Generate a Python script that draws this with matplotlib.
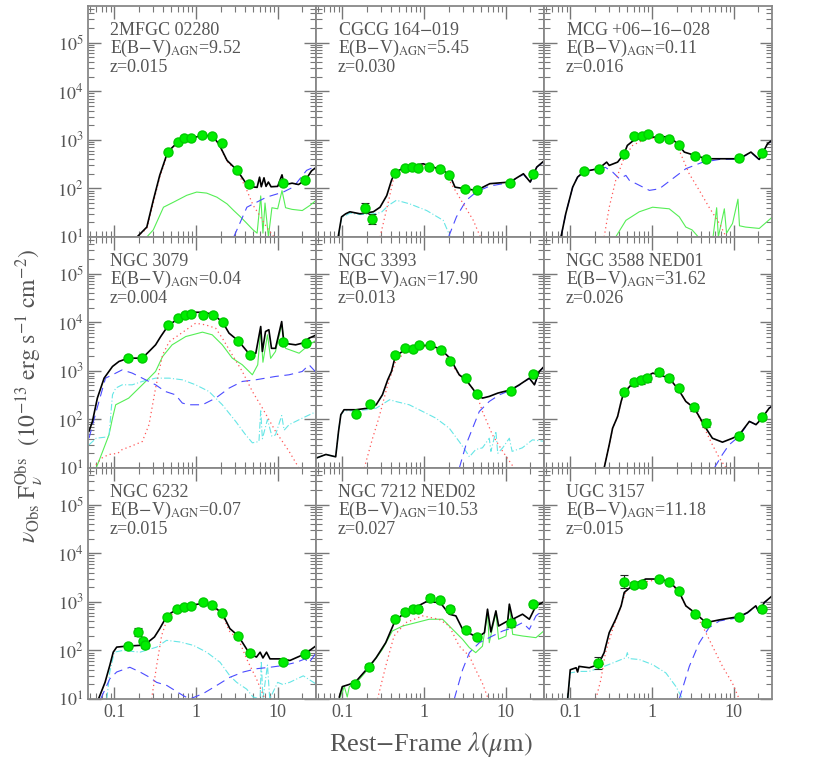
import numpy as np
import matplotlib
matplotlib.use("Agg")
import matplotlib.pyplot as plt
from matplotlib.ticker import LogLocator, NullFormatter, FixedLocator, FixedFormatter

plt.rcParams['font.family'] = ['Liberation Serif', 'DejaVu Serif']
plt.rcParams['mathtext.fontset'] = 'stix'

GRAY = '#555555'

# ---- panel labels ----
names = ["2MFGC 02280", "CGCG 164$-$019", "MCG +06$-$16$-$028",
         "NGC 3079", "NGC 3393", "NGC 3588 NED01",
         "NGC 6232", "NGC 7212 NED02", "UGC 3157"]
ebv = ["9.52", "5.45", "0.11", "0.04", "17.90", "31.62", "0.07", "10.53", "11.18"]
zs = ["0.015", "0.030", "0.016", "0.004", "0.013", "0.026", "0.015", "0.027", "0.015"]

# ---- 2MFGC 02280 ----
p1_lam = [0.45, 0.6, 0.72, 0.86, 1.18, 1.58, 2.08, 3.2, 4.5, 11.5, 21.7]
p1_flux = [558, 910, 1082, 1099, 1268, 1208, 867, 238, 123, 127, 146]
p1_err = [0.04] * 11
p1_tot_lam = [0.19, 0.25, 0.30, 0.36, 0.45, 0.6, 0.8, 1.0, 1.2, 1.6, 1.9, 2.4, 3.2, 4.0, 5.0, 5.6, 6.0, 6.3,
              6.8, 7.2, 7.7, 8.3, 10.0, 11.3, 12.0, 15, 18, 22, 26, 30]
p1_tot = [10, 16, 57, 186, 560, 900, 1080, 1135, 1260, 1170, 830, 376, 234, 135, 107, 105, 170, 108,
          165, 110, 135, 108, 110, 190, 118, 128, 120, 150, 230, 275]
p1_host_lam = [0.19, 0.25, 0.3, 0.36, 0.45, 0.6, 0.8, 1.0, 1.2, 1.6, 1.9, 2.4, 3.2, 4.0, 5.0, 6.0, 7.3, 9.0]
p1_host = [10, 15, 50, 170, 520, 870, 1060, 1120, 1240, 1150, 800, 360, 220, 110, 45, 28, 16, 10]
p1_agn_lam = [2.9, 4.2, 7.3, 11.7, 15.6, 22.6, 30]
p1_agn = [10, 41, 66, 84, 107, 235, 290]
p1_cyan_lam = []
p1_cyan = []
p1_green_lam = [0.25, 0.30, 0.40, 0.53, 0.77, 1.02, 1.35, 1.8, 2.4, 2.9, 3.5, 4.2, 5.0, 5.6, 6.2, 6.6, 7.0,
                7.7, 8.5, 10, 11.3, 12.5, 15, 20, 25, 30]
p1_green = [10, 14, 41, 52, 72, 84, 80, 66, 48, 35, 26, 19, 14, 12, 70, 12, 50, 10, 40, 38, 90, 40, 37,
            35, 45, 58]

# ---- CGCG 164-019 ----
p2_lam = [0.19, 0.233, 0.44, 0.585, 0.706, 0.837, 1.16, 1.57, 2.04, 3.18, 4.42, 11.3, 21.4]
p2_flux = [39.5, 23.8, 210, 266, 274, 262, 274, 249, 185, 98, 91, 129, 194]
p2_err = [0.11, 0.1, 0.04, 0.04, 0.04, 0.04, 0.04, 0.04, 0.04, 0.04, 0.04, 0.04, 0.04]
p2_tot_lam = [0.089, 0.098, 0.11, 0.124, 0.165, 0.24, 0.29, 0.35, 0.40, 0.44, 0.585, 0.98, 1.3, 1.72,
              2.08, 2.4, 3.18, 4.42, 6.4, 11.3, 16.5, 20, 24, 30]
p2_tot = [10, 26, 30, 33, 30, 33, 41, 71, 146, 210, 274, 321, 274, 234, 185, 106, 98, 91, 125, 135,
          200, 135, 274, 376]
p2_host_lam = [0.29, 0.37, 0.42, 0.56, 0.98, 1.72, 2.29, 3.03, 4.02, 4.9]
p2_host = [10, 57, 146, 234, 296, 234, 106, 48, 22, 10]
p2_agn_lam = [2.0, 2.5, 3.3, 4.4, 6.4, 11.3, 16.5, 20, 24, 30]
p2_agn = [10, 26, 57, 85, 112, 132, 195, 133, 270, 370]
p2_cyan_lam = [0.089, 0.098, 0.124, 0.165, 0.24, 0.30, 0.37, 0.46, 0.67, 1.08, 1.72, 2.1]
p2_cyan = [10, 25, 31, 29, 30, 32, 45, 57, 48, 35, 22, 10]
p2_green_lam = []
p2_green = []

# ---- MCG +06-16-028 ----
p3_lam = [0.148, 0.222, 0.454, 0.608, 0.747, 0.885, 1.23, 1.63, 2.12, 3.36, 4.63, 11.7, 22.2]
p3_flux = [223, 254, 507, 1170, 1208, 1288, 1099, 1016, 789, 455, 407, 427, 524]
p3_err = [0.04] * 13
p3_tot_lam = [0.077, 0.088, 0.107, 0.123, 0.148, 0.222, 0.279, 0.30, 0.38, 0.454, 0.50, 0.608, 0.885,
              1.23, 1.63, 2.12, 2.49, 3.36, 4.63, 6.7, 11.7, 16.3, 20.6, 26, 30]
p3_tot = [10, 30, 106, 171, 223, 254, 347, 297, 347, 507, 765, 1000, 1135, 1135, 1170, 789, 558, 476,
          407, 407, 407, 558, 394, 828, 1000]
p3_host_lam = [0.26, 0.30, 0.36, 0.46, 0.58, 0.84, 1.23, 1.63, 2.16, 2.86, 3.8, 5.0, 6.7, 8.1]
p3_host = [10, 41, 146, 440, 765, 1047, 1100, 1050, 604, 200, 91, 41, 19, 10]
p3_agn_lam = [0.077, 0.088, 0.107, 0.123, 0.148, 0.2, 0.27, 0.33, 0.40, 0.48, 0.53, 0.64, 0.93, 1.23,
              1.79, 2.6, 4.2, 6.7, 11.7, 16.3, 20.6, 26, 30]
p3_agn = [10, 30, 106, 171, 220, 250, 270, 217, 158, 185, 146, 125, 91, 98, 158, 254, 347, 394, 400,
          550, 385, 820, 990]
p3_cyan_lam = []
p3_cyan = []
p3_green_lam = [0.36, 0.48, 0.70, 1.02, 1.63, 2.16, 2.6, 3.1, 3.7, 5.6, 6.2, 6.5, 7.7, 8.2, 9.7, 11.3,
                11.8, 14, 20.6, 30]
p3_green = [10, 22, 33, 41, 38, 26, 16, 14, 10, 10, 40, 10, 38, 12, 19, 60, 17, 16, 15, 26]

# ---- NGC 3079 ----
p4_lam = [0.148, 0.22, 0.454, 0.602, 0.74, 0.877, 1.22, 1.62, 2.12, 3.3, 4.58, 11.6, 22]
p4_flux = [1820, 1820, 8810, 12080, 14380, 15070, 14160, 14160, 10000, 4130, 2130, 3880, 3700]
p4_err = [0.04] * 13
p4_tot_lam = [0.049, 0.054, 0.062, 0.075, 0.095, 0.114, 0.148, 0.22, 0.266, 0.32, 0.37, 0.454, 0.602,
              0.877, 1.22, 1.62, 2.12, 2.54, 3.3, 4.58, 5.4, 6.2, 6.5, 7.1, 7.8, 8.4, 9.4, 11.2, 11.9,
              16.6, 20, 24.2, 30]
p4_tot = [57, 91, 274, 706, 1227, 1556, 1820, 1820, 2495, 3420, 5070, 8400, 11800, 16000, 16000,
          14500, 10000, 5940, 4130, 2130, 2300, 8150, 2500, 6430, 7000, 2900, 2900, 10300, 3700, 3420,
          3700, 4690, 5500]
p4_host_lam = [0.055, 0.07, 0.086, 0.11, 0.125, 0.16, 0.22, 0.266, 0.32, 0.39, 0.47, 0.62, 0.99, 1.31,
               1.74, 2.1, 2.78, 3.69, 4.9, 6.5, 9.4, 13.8, 18.2]
p4_host = [10, 16, 19, 20, 24, 28, 35, 78, 440, 2130, 3980, 5500, 9530, 8810, 7530, 4690, 2130, 968,
           376, 171, 57, 22, 10]
p4_agn_lam = [0.049, 0.06, 0.078, 0.095, 0.125, 0.166, 0.22, 0.32, 0.42, 0.56, 0.68, 0.82, 1.2, 1.74,
              2.54, 3.69, 5.4, 9.4, 13.8, 20, 24.2, 30]
p4_agn = [41, 146, 706, 828, 1047, 895, 706, 515, 376, 321, 217, 200, 200, 274, 440, 604, 653, 765,
          828, 968, 1330, 900]
p4_cyan_lam = [0.049, 0.06, 0.086, 0.095, 0.104, 0.125, 0.166, 0.22, 0.32, 0.47, 0.68, 0.99, 1.44, 2.1,
               3.06, 4.06, 4.9, 5.9, 6.2, 6.5, 7.5, 8.5, 9.4, 11.2, 12, 13.8, 20, 30]
p4_cyan = [30, 41, 44, 321, 440, 515, 515, 604, 706, 706, 653, 515, 376, 200, 91, 48, 33, 35, 150, 40,
           100, 45, 48, 120, 60, 78, 106, 146]
p4_green_lam = [0.06, 0.072, 0.086, 0.095, 0.104, 0.125, 0.15, 0.2, 0.266, 0.32, 0.39, 0.51, 0.75, 1.2,
                1.58, 2.1, 2.78, 3.69, 4.9, 5.7, 6.2, 6.6, 7.5, 8.2, 9.4, 11.2, 12.5, 18.3, 24.2, 30]
p4_green = [10, 22, 48, 106, 200, 234, 274, 440, 706, 968, 1970, 3420, 5070, 6240, 5500, 3420, 1820,
            1330, 828, 1330, 7000, 1500, 5500, 1800, 2500, 8800, 2900, 2300, 3420, 4300]

# ---- NGC 3393 ----
p5_lam = [0.147, 0.218, 0.446, 0.585, 0.726, 0.877, 1.2, 1.6, 2.08, 3.27, 4.5, 11.6, 21.8]
p5_flux = [131, 210, 2130, 2920, 2790, 3320, 3320, 2660, 1580, 706, 332, 376, 855]
p5_err = [0.04] * 13
p5_tot_lam = [0.048, 0.063, 0.083, 0.09, 0.096, 0.105, 0.147, 0.21, 0.26, 0.31, 0.36, 0.40, 0.446,
              0.585, 0.877, 1.2, 1.6, 2.08, 2.7, 3.27, 4.5, 5.2, 6.3, 8.0, 11.6, 14.7, 19.5, 22.5, 25.8, 31]
p5_tot = [16, 19, 17, 57, 125, 158, 158, 171, 200, 321, 653, 968, 2000, 2700, 3320, 3320, 2790, 1820,
          828, 653, 321, 274, 297, 347, 407, 515, 706, 515, 968, 1330]
p5_host_lam = [0.186, 0.235, 0.28, 0.36, 0.45, 0.6, 0.877, 1.2, 1.6, 2.04, 2.7, 3.6, 4.3, 5.2, 6.9, 9.2,
               12.7]
p5_host = [10, 41, 106, 515, 1556, 2500, 3160, 3160, 2500, 1556, 828, 515, 376, 146, 48, 22, 10]
p5_agn_lam = [2.71, 3.27, 3.94, 4.76, 6.3, 8.4, 11.6, 14.7, 19.5, 22.5, 25.8, 31]
p5_agn = [10, 30, 66, 146, 234, 321, 400, 505, 700, 510, 960, 1320]
p5_cyan_lam = [0.048, 0.063, 0.083, 0.09, 0.096, 0.105, 0.147, 0.21, 0.26, 0.38, 0.45, 0.66, 0.96, 1.4,
               2.04, 2.7, 3.27, 3.6, 4.3, 5.2, 6.3, 6.6, 7.6, 8.0, 9.2, 11.1, 12.0, 16, 21.3, 31]
p5_cyan = [16, 19, 17, 57, 125, 150, 150, 160, 170, 254, 234, 200, 146, 106, 66, 35, 22, 17, 24, 26,
           41, 22, 57, 20, 26, 41, 22, 26, 38, 35]
p5_green_lam = []
p5_green = []

# ---- NGC 3588 NED01 ----
p6_lam = [0.45, 0.597, 0.733, 0.869, 1.21, 1.63, 2.12, 3.3, 4.58, 11.7, 22.2]
p6_flux = [365, 585, 632, 706, 939, 706, 434, 177, 84, 45.5, 112]
p6_err = [0.06, 0.07, 0.07, 0.07, 0.07, 0.06, 0.06, 0.07, 0.09, 0.07, 0.07]
p6_tot_lam = [0.26, 0.30, 0.33, 0.38, 0.42, 0.45, 0.597, 0.869, 1.02, 1.23, 1.63, 2.12, 2.6, 3.3, 4.58,
              5.5, 7.3, 9.7, 11.7, 15.6, 18.8, 21.6, 27.3, 31.5]
p6_tot = [10, 30, 66, 115, 234, 347, 585, 765, 895, 828, 706, 407, 234, 171, 66, 41, 34, 41, 48, 91,
          78, 100, 171, 200]
p6_host_lam = [0.26, 0.30, 0.33, 0.38, 0.42, 0.45, 0.597, 0.869, 1.02, 1.23, 1.63, 2.12, 2.6, 3.3, 4.58,
               5.5, 6.7, 8.1]
p6_host = [10, 30, 66, 115, 234, 347, 585, 765, 895, 828, 706, 407, 234, 171, 57, 30, 16, 10]
p6_agn_lam = [5.8, 7.3, 8.8, 11.7, 15.6, 18.8, 21.6, 27.3, 31.5]
p6_agn = [10, 19, 30, 45, 91, 78, 100, 171, 200]
p6_cyan_lam = []
p6_cyan = []
p6_green_lam = []
p6_green = []

# ---- NGC 6232 ----
p7_lam = [0.146, 0.193, 0.222, 0.237, 0.446, 0.59, 0.72, 0.869, 1.21, 1.58, 2.1, 3.3, 4.54, 11.5, 21.6]
p7_flux = [123, 239, 153, 127, 497, 705, 776, 813, 1000, 867, 601, 198, 88, 57, 83]
p7_err = [0.04, 0.08, 0.06, 0.06, 0.04, 0.04, 0.04, 0.04, 0.04, 0.04, 0.04, 0.04, 0.04, 0.04, 0.04]
p7_tot_lam = [0.064, 0.077, 0.088, 0.097, 0.107, 0.146, 0.206, 0.26, 0.31, 0.36, 0.446, 0.59, 0.869,
              1.21, 1.58, 2.1, 2.6, 3.3, 4.54, 5.5, 6.1, 6.6, 7.3, 8.05, 11.5, 14.1, 21.6, 30]
p7_tot = [10, 22, 49, 92, 117, 123, 127, 149, 189, 281, 530, 705, 853, 925, 853, 574, 281, 198, 85, 73,
          92, 70, 92, 67, 67, 62, 85, 127]
p7_host_lam = [0.286, 0.33, 0.38, 0.446, 0.59, 0.869, 1.21, 1.58, 2.1, 2.6, 3.3, 4.17, 5.5, 6.7, 7.0]
p7_host = [10, 49, 204, 452, 673, 813, 925, 789, 530, 239, 174, 67, 26, 11.7, 10]
p7_agn_lam = [0.068, 0.088, 0.107, 0.155, 0.206, 0.27, 0.33, 0.44, 0.7, 0.84, 1.23, 1.79, 2.6, 3.8, 5.5,
              8.05, 11.7, 17, 21.6, 24, 30]
p7_agn = [10, 26, 36, 45, 36, 28, 22, 19, 11.7, 10, 13, 19, 28, 36, 42, 45, 49, 57, 67, 55, 92]
p7_cyan_lam = [0.081, 0.088, 0.1, 0.128, 0.206, 0.33, 0.436, 0.64, 0.93, 1.35, 1.97, 2.6, 3.15, 4.17,
               5.0, 6.1, 6.3, 6.6, 7.5, 8.0, 10, 11.5, 14, 20.6, 30]
p7_cyan = [10, 36, 92, 100, 92, 117, 161, 149, 127, 92, 57, 30, 22, 16, 11, 10, 60, 10, 50, 10, 22, 20,
           22, 30, 20]
p7_green_lam = []
p7_green = []

# ---- NGC 7212 NED02 ----
p8_lam = [0.144, 0.214, 0.442, 0.585, 0.726, 0.853, 1.18, 1.58, 2.08, 3.27, 4.5, 11.5, 21.6]
p8_flux = [20.8, 45.9, 452, 631, 705, 705, 1191, 1066, 716, 264, 192, 373, 881]
p8_err = [0.06, 0.06, 0.06, 0.06, 0.06, 0.06, 0.06, 0.06, 0.06, 0.05, 0.05, 0.08, 0.06]
p8_tot_lam = [0.092, 0.1, 0.122, 0.147, 0.214, 0.26, 0.34, 0.442, 0.585, 0.853, 1.06, 1.58, 2.04, 2.46,
              2.97, 4.5, 5.5, 6.0, 6.6, 7.6, 8.2, 10.6, 11.1, 12.2, 16.1, 19.5, 23.5, 31]
p8_tot = [11, 18, 20, 23, 47, 71, 144, 404, 601, 826, 1000, 968, 556, 513, 272, 183, 232, 705, 240, 651,
          318, 404, 895, 438, 556, 438, 826, 1047]
p8_host_lam = [0.27, 0.34, 0.43, 0.6, 0.96, 1.53, 2.04, 2.7, 3.6, 4.3, 5.2, 6.0]
p8_host = [10, 47, 198, 373, 513, 438, 318, 123, 76, 40, 21, 11]
p8_agn_lam = [2.35, 2.97, 3.6, 4.76, 6.9, 9.2, 12.2, 16.1, 19.5, 23.5, 31]
p8_agn = [10, 40, 90, 144, 198, 251, 294, 373, 272, 513, 764]
p8_cyan_lam = []
p8_cyan = []
p8_green_lam = [0.092, 0.106, 0.115, 0.122, 0.147, 0.214, 0.31, 0.41, 0.55, 0.8, 1.16, 1.69, 2.24, 2.97,
                3.6, 4.3, 5.2, 6.0, 6.3, 7.6, 8.2, 10.1, 11.1, 12.2, 16.1, 23.5, 31]
p8_green = [10, 18, 11, 18, 21, 44, 105, 251, 318, 373, 438, 438, 272, 169, 114, 90, 122, 600, 144, 600,
            170, 198, 800, 214, 198, 183, 272]

# ---- UGC 3157 ----
p9_lam = [0.22, 0.458, 0.608, 0.747, 1.23, 1.63, 2.12, 3.33, 4.58, 11.7, 22.2]
p9_flux = [55.6, 2594, 2213, 2284, 2944, 2594, 1637, 574, 373, 497, 728]
p9_err = [0.12, 0.14, 0.06, 0.06, 0.04, 0.04, 0.04, 0.04, 0.04, 0.04, 0.04]
p9_tot_lam = [0.093, 0.1, 0.118, 0.123, 0.128, 0.171, 0.22, 0.26, 0.3, 0.36, 0.42, 0.458, 0.608, 0.84,
              1.23, 1.63, 2.12, 2.6, 3.33, 4.58, 6.7, 11.7, 14.8, 18.7, 20.6, 23.7, 31.5]
p9_tot = [10, 40, 44, 36, 47, 44, 51, 90, 232, 438, 826, 1560, 2322, 2944, 2944, 2594, 1690, 826, 601,
          373, 425, 497, 601, 826, 601, 968, 1442]
p9_host_lam = [0.206, 0.237, 0.27, 0.33, 0.42, 0.48, 0.64, 1.23, 1.63, 2.12, 2.6, 3.33, 4.17, 5.5, 7.3,
               9.7, 11.7]
p9_host = [10, 25, 90, 272, 826, 1690, 2322, 2944, 2520, 1610, 826, 601, 318, 123, 47, 21, 10]
p9_agn_lam = [2.16, 2.87, 3.8, 5.0, 6.7, 11.7, 14.8, 18.7, 20.6, 23.7, 31.5]
p9_agn = [10, 47, 144, 294, 404, 474, 590, 810, 590, 950, 1420]
p9_cyan_lam = [0.093, 0.1, 0.128, 0.17, 0.26, 0.33, 0.48, 0.5, 0.52, 0.7, 1.02, 1.48, 1.97, 2.37]
p9_cyan = [10, 34.5, 37, 37, 47, 55, 71, 90, 68, 65, 51, 34.5, 18, 10]
p9_green_lam = []
p9_green = []

panels = [
    (p1_lam, p1_flux, p1_err, p1_tot_lam, p1_tot, p1_host_lam, p1_host, p1_agn_lam, p1_agn, p1_cyan_lam, p1_cyan, p1_green_lam, p1_green),
    (p2_lam, p2_flux, p2_err, p2_tot_lam, p2_tot, p2_host_lam, p2_host, p2_agn_lam, p2_agn, p2_cyan_lam, p2_cyan, p2_green_lam, p2_green),
    (p3_lam, p3_flux, p3_err, p3_tot_lam, p3_tot, p3_host_lam, p3_host, p3_agn_lam, p3_agn, p3_cyan_lam, p3_cyan, p3_green_lam, p3_green),
    (p4_lam, p4_flux, p4_err, p4_tot_lam, p4_tot, p4_host_lam, p4_host, p4_agn_lam, p4_agn, p4_cyan_lam, p4_cyan, p4_green_lam, p4_green),
    (p5_lam, p5_flux, p5_err, p5_tot_lam, p5_tot, p5_host_lam, p5_host, p5_agn_lam, p5_agn, p5_cyan_lam, p5_cyan, p5_green_lam, p5_green),
    (p6_lam, p6_flux, p6_err, p6_tot_lam, p6_tot, p6_host_lam, p6_host, p6_agn_lam, p6_agn, p6_cyan_lam, p6_cyan, p6_green_lam, p6_green),
    (p7_lam, p7_flux, p7_err, p7_tot_lam, p7_tot, p7_host_lam, p7_host, p7_agn_lam, p7_agn, p7_cyan_lam, p7_cyan, p7_green_lam, p7_green),
    (p8_lam, p8_flux, p8_err, p8_tot_lam, p8_tot, p8_host_lam, p8_host, p8_agn_lam, p8_agn, p8_cyan_lam, p8_cyan, p8_green_lam, p8_green),
    (p9_lam, p9_flux, p9_err, p9_tot_lam, p9_tot, p9_host_lam, p9_host, p9_agn_lam, p9_agn, p9_cyan_lam, p9_cyan, p9_green_lam, p9_green),
]

fig, axes = plt.subplots(3, 3, figsize=(8.31, 7.76), dpi=100)
fig.subplots_adjust(left=0.1063, right=0.9293, top=0.9923, bottom=0.0992, wspace=0, hspace=0)

for i, ax in enumerate(axes.flat):
    (lam, flux, err, tl, tf, hl, hf, al, af, cl, cf, gl, gf) = panels[i]
    ax.set_xscale('log')
    ax.set_yscale('log')

    if len(gl):
        ax.plot(gl, gf, color='#55ee55', lw=0.8)
    if len(cl):
        ax.plot(cl, cf, color='#66e6e6', lw=0.8, dashes=(6, 2, 1, 2))
    ax.plot(al, af, color='#4b4bff', lw=0.8, dashes=(8, 5))
    ax.plot(hl, hf, color='#ff5555', lw=0.9, dashes=(1, 2.5))
    ax.plot(tl, tf, color='black', lw=1.2)

    flux = np.array(flux, dtype=float)
    err = np.array(err)
    lo = flux - flux / 10 ** err
    hi = flux * 10 ** err - flux
    ax.errorbar(lam, flux, yerr=[lo, hi], fmt='o', ms=6.5, mfc='#00ee00', mec='#00cc00',
                ecolor='#222222', elinewidth=0.8, capsize=3, capthick=0.8, zorder=5)

    ax.set_xlim(10 ** -1.318, 10 ** 1.473)
    ax.set_ylim(10, 10 ** 5.753)

    ax.xaxis.set_major_locator(FixedLocator([0.1, 1, 10]))
    ax.xaxis.set_major_formatter(FixedFormatter(['0.1', '1', '10']))
    ax.xaxis.set_minor_locator(LogLocator(base=10, subs=np.arange(2, 10), numticks=20))
    ax.xaxis.set_minor_formatter(NullFormatter())
    ax.yaxis.set_major_locator(FixedLocator([10, 1e2, 1e3, 1e4, 1e5]))
    ax.yaxis.set_major_formatter(FixedFormatter(['$10^1$', '$10^2$', '$10^3$', '$10^4$', '$10^5$']))
    ax.yaxis.set_minor_locator(LogLocator(base=10, subs=np.arange(2, 10), numticks=20))
    ax.yaxis.set_minor_formatter(NullFormatter())

    ax.tick_params(which='both', direction='in', top=True, right=True, colors='#777777',
                   labelcolor=GRAY, labelsize=13)
    ax.tick_params(which='major', length=9, width=1.0)
    ax.tick_params(which='minor', length=4.5, width=0.8)
    for s in ax.spines.values():
        s.set_color('#888888')
        s.set_linewidth(1.3)

    if i % 3 != 0:
        ax.tick_params(labelleft=False)
    if i < 6:
        ax.tick_params(labelbottom=False)

    ax.text(0.095, 0.895, names[i], transform=ax.transAxes, fontsize=13, color=GRAY, va='center')
    ax.text(0.095, 0.815, 'E(B$-$V)$_{\\rm AGN}$=' + ebv[i], transform=ax.transAxes,
            fontsize=13, color=GRAY, va='center')
    ax.text(0.095, 0.735, 'z=' + zs[i], transform=ax.transAxes, fontsize=13, color=GRAY, va='center')

fig.text(0.035, 0.49,
         r'$\nu_{\rm Obs}\ \mathrm{F}_{\nu}^{\rm Obs}\ \ (10^{-13}\ \mathrm{erg\ s^{-1}\ cm^{-2}})$',
         rotation=90, ha='center', va='center', fontsize=17, color=GRAY)
fig.text(0.518, 0.04, r'Rest$-$Frame $\lambda(\mu\mathrm{m})$', ha='center', va='center',
         fontsize=19, color=GRAY)

fig.savefig('out.png', dpi=100)
